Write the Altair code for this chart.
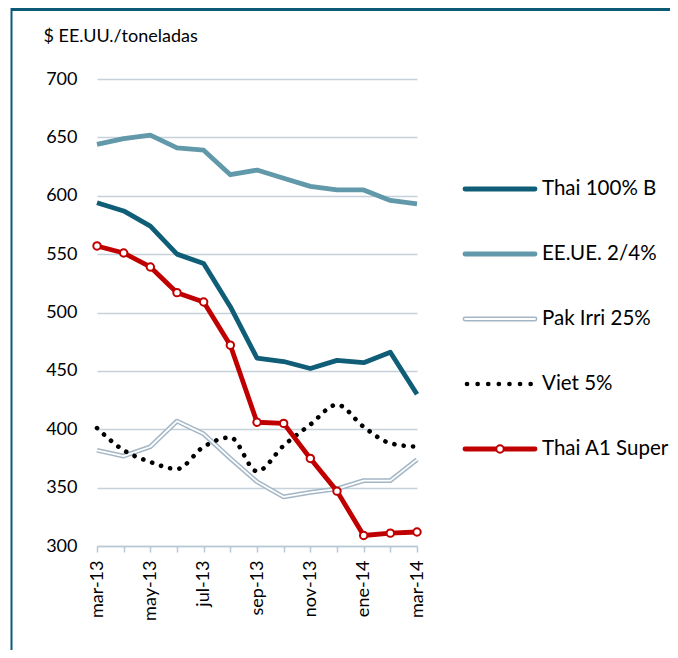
import altair as alt
import pandas as pd

# ---------------- data ----------------
meses = ["mar-13", "abr-13", "may-13", "jun-13", "jul-13", "ago-13", "sep-13",
         "oct-13", "nov-13", "dic-13", "ene-14", "feb-14", "mar-14"]
etiquetas_x = ["mar-13", "may-13", "jul-13", "sep-13", "nov-13", "ene-14", "mar-14"]
valores_y = [300, 350, 400, 450, 500, 550, 600, 650, 700]

series = ["Thai 100% B", "EE.UE. 2/4%", "Pak Irri 25%", "Viet 5%", "Thai A1 Super"]

thai100 = [594, 587, 574, 550, 542, 505, 461, 458, 452, 459, 457, 466, 430]
eeue = [644, 649, 652, 641, 639, 618, 622, 615, 608, 605, 605, 596, 593]
pak = [382, 377, 385, 407, 396, 375, 355, 342, 346, 349, 356, 356, 374]
viet = [401, 382, 372, 366, 385, 393, 364, 386, 404, 421, 402, 388, 385]
thaiA1 = [557, 551, 539, 517, 509, 472, 406, 405, 375, 347, 309, 311, 312]

valores = dict(zip(series, [thai100, eeue, pak, viet, thaiA1]))
rows = []
for s in series:
    for m, v in zip(meses, valores[s]):
        rows.append({"mes": m, "serie": s, "valor": v})
df = pd.DataFrame(rows)
df_leg = pd.DataFrame({"serie": series})
df_one = pd.DataFrame({"k": [0]})

# ---------------- styles ----------------
FONT = "Lato"
TEAL_DARK = "#0f5d77"
TEAL_LIGHT = "#6199aa"
PAK = "#a3b6c6"
RED = "#c00000"
BAND = "#0b5a76"

W, H = 320, 467

label_expr = "indexof([" + ",".join("'%s'" % e for e in etiquetas_x) + "], datum.value) >= 0 ? datum.value : ''"

x_axis = alt.Axis(title=None, labelAngle=-90, labelExpr=label_expr, labelOverlap=False,
                  domainColor="#b8c7d4", domainWidth=1.5, tickColor="#b8c7d4",
                  tickWidth=1.5, tickSize=6, labelPadding=8, labelFont=FONT,
                  labelFontSize=18, labelColor="#000000", grid=False)
x_enc = alt.X("mes:O", sort=meses, scale=alt.Scale(type="point", padding=0, domain=meses), axis=x_axis)

y_scale = alt.Scale(domain=[300, 700], nice=False, zero=False)
y_axis = alt.Axis(values=valores_y, grid=True, gridColor="#c6d1da", gridWidth=1.5,
                  domain=False, ticks=False, labelPadding=20, labelFont=FONT,
                  labelFontSize=18, labelColor="#000000",
                  title="$ EE.UU./toneladas", titleAngle=0, titleAlign="left",
                  titleBaseline="middle", titleX=-54, titleY=-43, titleFont=FONT,
                  titleFontSize=18, titleFontWeight="normal", titleColor="#000000")


def y_enc(first=False):
    return alt.Y("valor:Q", scale=y_scale, axis=y_axis if first else None)


def serie_df(s):
    return alt.Chart(df).transform_filter(alt.datum.serie == s)


leg_y = alt.Y("serie:N", scale=alt.Scale(type="point", domain=series, range=[110, 370], padding=0), axis=None)


def leg(s):
    return alt.Chart(df_leg).transform_filter(alt.datum.serie == s)


LX1, LX2, LXC, LXT = 368, 438, 403, 445
LW = 4.8

layers = []
# Thai 100% B
layers.append(serie_df(series[0]).mark_line(color=TEAL_DARK, strokeWidth=LW, strokeJoin="round")
              .encode(x=x_enc, y=y_enc(True)))
# EE.UE.
layers.append(serie_df(series[1]).mark_line(color=TEAL_LIGHT, strokeWidth=LW, strokeJoin="round")
              .encode(x=x_enc, y=y_enc()))
# Pak Irri (double line)
layers.append(serie_df(series[2]).mark_line(color=PAK, strokeWidth=4.8, strokeJoin="round")
              .encode(x=x_enc, y=y_enc()))
layers.append(serie_df(series[2]).mark_line(color="white", strokeWidth=1.8, strokeJoin="round")
              .encode(x=x_enc, y=y_enc()))
# Viet 5% (dotted, smoothed)
layers.append(serie_df(series[3]).mark_line(color="black", strokeWidth=4.6, strokeCap="round",
                                            strokeDash=[0.1, 9.3], interpolate="monotone")
              .encode(x=x_enc, y=y_enc()))
# Thai A1 Super
layers.append(serie_df(series[4]).mark_line(color=RED, strokeWidth=LW, strokeJoin="round")
              .encode(x=x_enc, y=y_enc()))
layers.append(serie_df(series[4]).mark_point(shape="circle", filled=True, fill="white", stroke=RED,
                                             strokeWidth=2, size=55, opacity=1)
              .encode(x=x_enc, y=y_enc()))

# ---------------- legend ----------------
layers.append(leg(series[0]).mark_rule(color=TEAL_DARK, strokeWidth=LW, strokeCap="round")
              .encode(x=alt.value(LX1), x2=alt.value(LX2), y=leg_y))
layers.append(leg(series[1]).mark_rule(color=TEAL_LIGHT, strokeWidth=LW, strokeCap="round")
              .encode(x=alt.value(LX1), x2=alt.value(LX2), y=leg_y))
layers.append(leg(series[2]).mark_rule(color=PAK, strokeWidth=4.8, strokeCap="round")
              .encode(x=alt.value(LX1), x2=alt.value(LX2), y=leg_y))
layers.append(leg(series[2]).mark_rule(color="white", strokeWidth=1.8, strokeCap="round")
              .encode(x=alt.value(LX1), x2=alt.value(LX2), y=leg_y))
layers.append(leg(series[3]).mark_rule(color="black", strokeWidth=4.6, strokeCap="round",
                                       strokeDash=[0.1, 10.5])
              .encode(x=alt.value(LX1 + 2), x2=alt.value(LX2), y=leg_y))
layers.append(leg(series[4]).mark_rule(color=RED, strokeWidth=LW, strokeCap="round")
              .encode(x=alt.value(LX1), x2=alt.value(LX2), y=leg_y))
layers.append(leg(series[4]).mark_point(shape="circle", filled=True, fill="white", stroke=RED,
                                        strokeWidth=2, size=55, opacity=1)
              .encode(x=alt.value(LXC), y=leg_y))
layers.append(alt.Chart(df_leg).mark_text(align="left", baseline="middle", font=FONT,
                                          fontSize=20.5, color="black")
              .encode(x=alt.value(LXT), y=leg_y, text="serie:N"))

# ---------------- frame ----------------
layers.append(alt.Chart(df_one).mark_rule(color=BAND, strokeWidth=6)
              .encode(x=alt.value(-86), x2=alt.value(600), y=alt.value(-71)))
layers.append(alt.Chart(df_one).mark_rule(color=BAND, strokeWidth=2)
              .encode(x=alt.value(-85.5), y=alt.value(-71), y2=alt.value(600)))

chart = alt.layer(*layers).resolve_scale(y="independent").properties(
    width=W, height=H,
    autosize=alt.AutoSizeParams(type="none"),
    padding={"left": 89, "top": 71, "right": 253, "bottom": 104},
).configure_view(stroke=None)

chart.save("out.html", embed_options={"renderer": "svg", "actions": False})
